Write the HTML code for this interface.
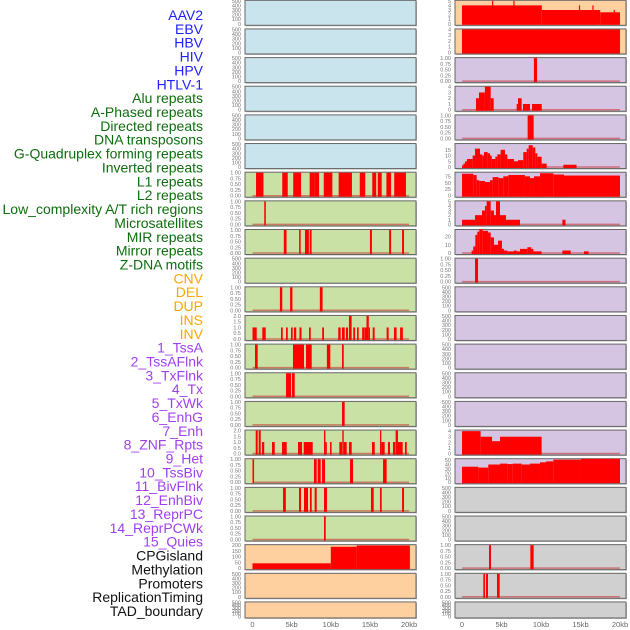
<!DOCTYPE html>
<html><head><meta charset="utf-8">
<style>
html,body{margin:0;padding:0;background:#fff;width:630px;height:630px;overflow:hidden}
svg{display:block;font-family:"Liberation Sans",sans-serif}
</style></head>
<body>
<svg id="chart" width="630" height="630" viewBox="0 0 630 630"></svg>
<script>
const labelNames=["AAV2","EBV","HBV","HIV","HPV","HTLV-1","Alu repeats","A-Phased repeats","Directed repeats","DNA transposons","G-Quadruplex forming repeats","Inverted repeats","L1 repeats","L2 repeats","Low_complexity A/T rich regions","Microsatellites","MIR repeats","Mirror repeats","Z-DNA motifs","CNV","DEL","DUP","INS","INV","1_TssA","2_TssAFlnk","3_TxFlnk","4_Tx","5_TxWk","6_EnhG","7_Enh","8_ZNF_Rpts","9_Het","10_TssBiv","11_BivFlnk","12_EnhBiv","13_ReprPC","14_ReprPCWk","15_Quies","CPGisland","Methylation","Promoters","ReplicationTiming","TAD_boundary"];
const labelGroups=["virus","virus","virus","virus","virus","virus","repeat","repeat","repeat","repeat","repeat","repeat","repeat","repeat","repeat","repeat","repeat","repeat","repeat","sv","sv","sv","sv","sv","chrom","chrom","chrom","chrom","chrom","chrom","chrom","chrom","chrom","chrom","chrom","chrom","chrom","chrom","chrom","other","other","other","other","other"];
const xTicks=[0,5,10,15,20];
const xTickLabels=["0","5kb","10kb","15kb","20kb"];
const leftBg=["blue","blue","blue","blue","blue","blue","green","green","green","green","green","green","green","green","green","green","green","green","green","orange","orange","orange"];
const rightBg=["orange","orange","purple","purple","purple","purple","purple","purple","purple","purple","purple","purple","purple","purple","purple","purple","purple","gray","gray","gray","gray","gray"];
const leftMax=[500,500,500,500,500,500,1,1,1,500,1,2,1,1,1,2,1,1,1,200,500,500];
const rightMax=[5,4,1,4,1,20,89,5,28,1,500,500,500,500,500,4.1,52,500,500,1,1,500];
// segments: [startKb, endKb, value]
const L6=[[0.45,1.4,1],[3.8,4.5,1],[5.2,6.2,1],[7.3,7.9,1],[7.9,8.5,1],[9.1,10.2,1],[11.0,12.7,1],[13.7,14.4,1],[15.3,15.8,1],[16.0,16.5,1],[17.1,17.7,1],[18.1,19.6,1]];
const L7=[[1.5,1.7,1]];
const L8=[[4.0,4.35,1],[5.95,6.15,1],[6.7,7.2,1],[7.3,7.55,1],[15.0,15.25,1],[17.45,17.7,1],[19.1,19.35,1]];
const L10=[[3.5,3.8,1],[4.8,5.1,1],[8.6,8.95,1]];
const L11=[[0,0.54,1],[1.25,1.69,1],[3.64,3.86,1],[4.28,4.5,1],[4.92,5.13,1],[5.29,5.59,1],[6.0,6.26,1],[7.22,7.44,1],[8.9,9.13,1],[10.95,11.26,1],[11.43,11.78,1],[11.94,12.2,1],[12.32,12.66,2],[12.87,13.1,1],[13.35,13.56,1],[14.0,14.24,1],[14.27,14.56,1],[14.56,14.85,2],[14.85,15.0,1],[15.35,15.6,1],[17.13,17.39,1],[18.07,18.4,1],[18.85,19.2,1]];
const L12=[[0.32,0.66,1],[5.17,6.58,1],[6.83,7.56,1],[9.5,9.94,1],[11.43,11.65,1]];
const L13=[[4.28,4.92,1],[5.04,5.39,1]];
const L14=[[11.43,11.77,1]];
const L15=[[0.41,0.66,2],[0.79,1.05,2],[1.21,1.5,1],[2.49,2.84,1],[3.77,4.37,1],[5.81,6.32,1],[6.54,7.69,1],[9.13,9.31,2],[9.31,9.49,1],[9.9,10.1,1],[11.09,11.43,1],[11.47,11.65,2],[11.65,12.03,1],[12.32,12.67,1],[15.26,15.61,1],[16.28,16.45,2],[16.45,16.88,1],[17.3,17.56,1],[17.94,18.23,1],[18.28,18.58,2],[18.58,19.18,1],[19.47,19.7,1]];
const L16=[[0,0.2,1],[7.85,8.2,1],[8.33,8.71,1],[8.88,9.26,1],[12.45,12.84,1],[16.67,17.13,1]];
const L17=[[3.9,4.26,1],[5.94,6.19,1],[6.58,7.09,1],[7.34,7.56,1],[7.94,8.2,1],[9.13,9.51,1],[15.13,15.48,1],[16.28,16.5,1],[19.1,19.35,1]];
const L18=[[9.13,9.35,1]];
const L19=[[0,10,42],[10,13.3,186],[13.3,20.1,197]];
const R0=[[0,10.1,4],[10.1,17.5,3],[17.5,20,2.5],[3.8,3.95,5],[6.5,6.65,5],[14.8,14.95,4],[16.5,16.65,4],[19.2,19.35,3]];
const R1=[[0,20,4]];
const R2=[[9.1,9.5,1]];
const R3=[[1.77,2.15,2],[2.15,2.9,3],[2.9,3.63,4],[3.63,4.01,2],[6.92,7.09,1],[7.09,7.55,2],[7.72,8.61,1],[8.86,10.09,1]];
const R4=[[8.31,9.07,1]];
const R5=[[0,0.17,1.5],[0.17,0.38,3],[0.38,0.63,5],[0.63,1.35,7],[1.35,1.65,10],[1.65,2.28,16],[2.28,2.57,11],[2.57,2.78,10],[2.78,3.25,13],[3.25,3.54,12],[3.54,3.76,10],[3.76,4.22,7],[4.22,4.47,9],[4.47,4.89,11],[4.89,5.44,15],[5.44,5.74,11],[5.74,6.58,7],[6.58,7.09,5],[7.09,7.76,6],[7.76,8.19,13],[8.19,8.44,16],[8.44,8.95,19],[8.95,9.28,17],[9.28,9.54,12],[9.54,10.08,9],[10.08,10.72,3],[12.83,14.5,2]];
const R6=[[0,1.43,85],[1.43,1.86,80],[1.86,2.19,60],[2.19,2.91,57],[2.91,3.54,53],[3.54,3.88,60],[3.88,4.6,72],[4.6,5.23,68],[5.23,5.86,75],[5.86,7.97,80],[7.97,8.61,75],[8.61,9.11,68],[9.11,9.87,75],[9.87,11.56,87],[11.56,12.91,82],[12.91,20,78]];
const R7=[[0,1.65,1],[1.65,2.53,2],[2.53,2.91,3],[2.91,3.12,4],[3.12,3.63,5],[3.63,4.05,3],[4.05,4.3,2],[4.3,4.81,5],[4.81,5.57,2],[5.57,7.34,1],[12.7,13.1,1]];
const R8=[[1.22,1.43,3],[1.43,1.69,8],[1.69,1.94,22],[1.94,2.19,26],[2.19,2.62,29],[2.62,3.29,27],[3.29,3.63,25],[3.63,4.05,19],[4.05,4.56,10],[4.56,5.06,15],[5.06,5.32,5],[5.32,5.74,3],[5.74,6.58,2],[6.58,6.92,3],[6.92,7.34,2],[7.34,8.27,5],[8.27,8.78,7],[8.78,9.03,5],[9.03,10.08,2],[12.7,13.76,3],[15.44,16.03,2]];
const R9=[[1.65,2.03,1]];
const R15=[[0,2.36,4],[2.36,3.8,3],[3.8,4.81,2.2],[4.81,10.08,3]];
const R16=[[0,2.07,35],[2.07,3.33,33],[3.33,4.81,40],[4.81,5.74,42],[5.74,6.41,41],[6.41,7.55,42],[7.55,8.61,40],[8.61,9.87,42],[9.87,10.63,45],[10.63,11.56,47],[11.56,15.06,51],[15.06,20,53]];
const R19=[[3.42,3.67,1],[8.65,9.07,1]];
const R20=[[2.7,2.91,1],[3.04,3.29,1],[4.43,4.77,1]];
const leftData={6:L6,7:L7,8:L8,10:L10,11:L11,12:L12,13:L13,14:L14,15:L15,16:L16,17:L17,18:L18,19:L19};
const rightData={0:R0,1:R1,2:R2,3:R3,4:R4,5:R5,6:R6,7:R7,8:R8,9:R9,15:R15,16:R16,19:R19,20:R20};
const tickSets={1:[0,0.25,0.5,0.75,1],2:[0,0.5,1,1.5,2],500:[0,100,200,300,400,500],200:[0,50,100,150,200],5:[0,1,2,3,4,5],4:[0,1,2,3,4],4.1:[0,1,2,3,4],20:[0,5,10,15],89:[0,25,50,75],28:[0,10,20],52:[0,10,20,30,40,50]};

const NS="http://www.w3.org/2000/svg";
const svg=document.getElementById('chart');
const colors={blue:"#c9e4ec",green:"#c9e1a4",orange:"#fed09f",purple:"#d5c5e2",gray:"#d0d0d0"};
const labelColors={virus:"#1f1fff",repeat:"#0d6e0d",sv:"#ffa500",chrom:"#a03ff0",other:"#111"};
function el(t,a){const e=document.createElementNS(NS,t);for(const k in a)e.setAttribute(k,a[k]);return e;}
function rowTop(i){return 0.3+i*28.65;}
function rowH(i){return i===21?16:25;}
const cols=[{x0:245,x1:416,zero:252.5,k:7.83,bg:leftBg,max:leftMax,data:leftData,side:"left",tx:241},
            {x0:455,x1:626,zero:462,k:7.9,bg:rightBg,max:rightMax,data:rightData,side:"right",tx:451}];
function fmt(v,max){if(max===1)return v.toFixed(2);if(max===2)return v.toFixed(1);return String(v);}
// labels
labelNames.forEach((n,i)=>{
  const t=el('text',{x:203,y:(20+i*13.86).toFixed(1),'text-anchor':'end','font-size':'14',fill:labelColors[labelGroups[i]]});
  
  
  t.textContent=n;svg.appendChild(t);
});
cols.forEach(c=>{
  const xs=kb=>c.zero+kb*c.k;
  for(let i=0;i<22;i++){
    const top=rowTop(i),h=rowH(i),bottom=top+h,max=c.max[i];
    const ys=v=>top+0.5+(h-2)*(1-v/max);
    const g=el('g',{});
    
    
    svg.appendChild(g);
    g.appendChild(el('rect',{x:c.x0+1,y:top+1,width:c.x1-c.x0,height:h,fill:'#bbb'}));
    const bg=el('rect',{x:c.x0,y:top,width:c.x1-c.x0,height:h,fill:colors[c.bg[i]],stroke:'#666','stroke-width':1});
    
    
    g.appendChild(bg);
    const segs=c.data[i];
    if(segs){
      const bl=el('line',{x1:xs(0),x2:xs(20),y1:bottom-1.5,y2:bottom-1.5,stroke:'rgba(200,40,40,0.55)','stroke-width':1.5});
      
      
      g.appendChild(bl);
      segs.forEach(s=>{
        const y=ys(s[2]);
        const r=el('rect',{x:xs(s[0]),y:y,width:Math.max(1.2,xs(s[1])-xs(s[0])),height:bottom-0.5-y,fill:'#ff0000'});
        
        
        g.appendChild(r);
      });
    }
    (tickSets[max]||[0,max]).forEach(v=>{
      const t=el('text',{x:c.tx,y:(ys(v)+2).toFixed(1),'text-anchor':'end','font-size':'5.5',fill:'#777'});
      
      
      t.textContent=fmt(v,max);g.appendChild(t);
    });
  }
  xTicks.forEach((v,j)=>{
    const t=el('text',{x:xs(v),y:627,'text-anchor':'middle','font-size':'7.5',fill:'#666'});
    
    
    t.textContent=xTickLabels[j];svg.appendChild(t);
  });
});
</script>
</body></html>
